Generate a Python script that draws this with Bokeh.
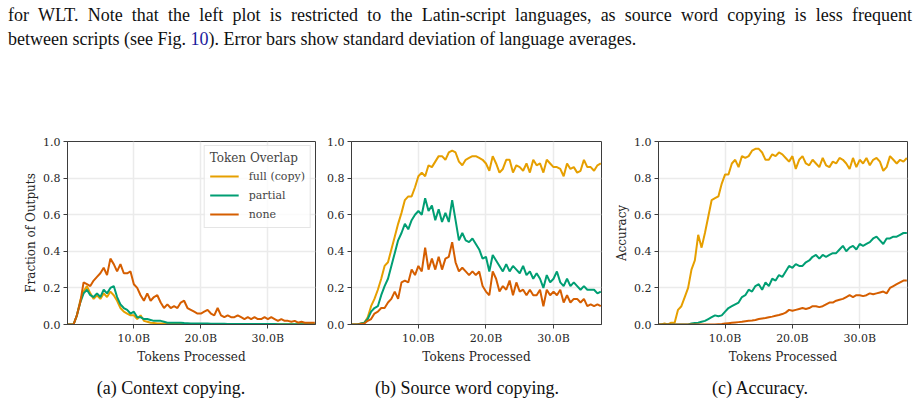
from bokeh.plotting import figure
from bokeh.models import Range1d, FixedTicker, Div
from bokeh.layouts import row, column
from bokeh.embed import file_html
from bokeh.resources import INLINE

# tokens processed, in billions
tokens = [0.0, 0.5, 1.0, 1.5, 2.0, 2.5, 3.0, 3.5, 4.0, 4.5,
          5.0, 5.5, 6.0, 6.5, 7.0, 7.5, 8.0, 8.5, 9.0, 9.5,
          10.0, 10.5, 11.0, 11.5, 12.0, 12.5, 13.0, 13.5, 14.0, 14.5,
          15.0, 15.5, 16.0, 16.5, 17.0, 17.5, 18.0, 18.5, 19.0, 19.5,
          20.0, 20.5, 21.0, 21.5, 22.0, 22.5, 23.0, 23.5, 24.0, 24.5,
          25.0, 25.5, 26.0, 26.5, 27.0, 27.5, 28.0, 28.5, 29.0, 29.5,
          30.0, 30.5, 31.0, 31.5, 32.0, 32.5, 33.0, 33.5, 34.0, 34.5,
          35.0, 35.5, 36.0, 36.5, 37.0]

# (a) context copying
ctx_full = [0, 0, 0, 0.05, 0.13, 0.18, 0.21, 0.17, 0.14, 0.16,
            0.14, 0.17, 0.15, 0.18, 0.16, 0.13, 0.09, 0.07, 0.06, 0.05,
            0.05, 0.03, 0.05, 0.02, 0.015, 0.01, 0.008, 0.006, 0.005, 0.005,
            0.004, 0.004, 0.003, 0.003, 0.003, 0.002, 0.002, 0.002, 0.002, 0.002,
            0.002, 0.002, 0.001, 0.001, 0.001, 0.001, 0.001, 0.001, 0.001, 0.001,
            0.001, 0.001, 0.001, 0.001, 0.001, 0.001, 0.001, 0.001, 0.001, 0.001,
            0.001, 0.001, 0.001, 0.001, 0.001, 0.001, 0.001, 0.001, 0.001, 0.001,
            0.001, 0.001, 0.001, 0.001, 0.001]
ctx_partial = [0, 0, 0, 0.05, 0.12, 0.17, 0.19, 0.16, 0.15, 0.17,
               0.15, 0.19, 0.17, 0.20, 0.21, 0.15, 0.11, 0.09, 0.08, 0.06,
               0.07, 0.04, 0.04, 0.03, 0.03, 0.025, 0.02, 0.02, 0.02, 0.015,
               0.01, 0.01, 0.01, 0.01, 0.01, 0.008, 0.007, 0.006, 0.006, 0.005,
               0.005, 0.005, 0.005, 0.004, 0.004, 0.004, 0.004, 0.004, 0.003, 0.003,
               0.003, 0.003, 0.003, 0.003, 0.003, 0.003, 0.003, 0.003, 0.003, 0.003,
               0.003, 0.003, 0.003, 0.002, 0.002, 0.002, 0.002, 0.002, 0.002, 0.002,
               0.002, 0.002, 0.002, 0.002, 0.002]
ctx_none = [0, 0, 0, 0.05, 0.12, 0.23, 0.22, 0.21, 0.24, 0.26,
            0.28, 0.31, 0.27, 0.36, 0.33, 0.29, 0.33, 0.28, 0.28, 0.29,
            0.22, 0.20, 0.16, 0.13, 0.17, 0.13, 0.15, 0.16, 0.12, 0.09,
            0.11, 0.09, 0.10, 0.09, 0.12, 0.13, 0.09, 0.08, 0.07, 0.06,
            0.06, 0.07, 0.08, 0.06, 0.05, 0.09, 0.05, 0.04, 0.05, 0.04,
            0.04, 0.05, 0.04, 0.03, 0.04, 0.03, 0.04, 0.03, 0.03, 0.04,
            0.03, 0.04, 0.03, 0.02, 0.03, 0.02, 0.02, 0.015, 0.02, 0.01,
            0.015, 0.01, 0.01, 0.01, 0.01]

# (b) source word copying
src_full = [0, 0, 0, 0.005, 0.01, 0.04, 0.10, 0.14, 0.19, 0.25,
            0.32, 0.34, 0.41, 0.48, 0.55, 0.61, 0.68, 0.70, 0.70, 0.75,
            0.81, 0.83, 0.81, 0.87, 0.86, 0.89, 0.92, 0.92, 0.90, 0.94,
            0.95, 0.94, 0.89, 0.87, 0.90, 0.91, 0.92, 0.92, 0.91, 0.90,
            0.88, 0.84, 0.92, 0.88, 0.83, 0.85, 0.90, 0.90, 0.83, 0.87,
            0.86, 0.84, 0.88, 0.83, 0.90, 0.87, 0.88, 0.83, 0.90, 0.88,
            0.86, 0.86, 0.85, 0.81, 0.88, 0.85, 0.86, 0.83, 0.84, 0.90,
            0.86, 0.86, 0.84, 0.87, 0.88]
src_partial = [0, 0, 0, 0.005, 0.01, 0.03, 0.07, 0.09, 0.10, 0.16,
               0.21, 0.25, 0.32, 0.39, 0.46, 0.50, 0.55, 0.52, 0.57, 0.60,
               0.62, 0.60, 0.69, 0.62, 0.65, 0.57, 0.63, 0.56, 0.61, 0.56,
               0.68, 0.57, 0.46, 0.50, 0.46, 0.45, 0.47, 0.44, 0.41, 0.36,
               0.37, 0.29, 0.38, 0.35, 0.32, 0.29, 0.33, 0.29, 0.32, 0.30,
               0.28, 0.32, 0.27, 0.29, 0.25, 0.28, 0.25, 0.20, 0.27, 0.23,
               0.25, 0.29, 0.23, 0.21, 0.25, 0.21, 0.23, 0.21, 0.19, 0.21,
               0.19, 0.19, 0.19, 0.17, 0.18]
src_none = [0, 0, 0, 0.003, 0.005, 0.02, 0.03, 0.06, 0.07, 0.09,
            0.09, 0.12, 0.14, 0.18, 0.14, 0.23, 0.24, 0.23, 0.30, 0.27,
            0.32, 0.29, 0.42, 0.30, 0.36, 0.30, 0.37, 0.30, 0.36, 0.37,
            0.45, 0.34, 0.29, 0.31, 0.29, 0.27, 0.29, 0.27, 0.29, 0.21,
            0.18, 0.16, 0.29, 0.25, 0.18, 0.21, 0.19, 0.24, 0.16, 0.23,
            0.18, 0.19, 0.16, 0.19, 0.16, 0.16, 0.19, 0.10, 0.19, 0.16,
            0.18, 0.16, 0.19, 0.12, 0.16, 0.12, 0.14, 0.14, 0.12, 0.14,
            0.10, 0.11, 0.10, 0.11, 0.10]

# (c) accuracy
acc_full = [0, 0, 0.005, 0, 0.01, 0.01, 0.08, 0.10, 0.15, 0.20,
            0.30, 0.35, 0.49, 0.42, 0.50, 0.59, 0.68, 0.69, 0.70, 0.77,
            0.82, 0.82, 0.88, 0.90, 0.86, 0.92, 0.91, 0.92, 0.95, 0.96,
            0.96, 0.94, 0.90, 0.90, 0.93, 0.92, 0.94, 0.93, 0.91, 0.89,
            0.92, 0.85, 0.90, 0.92, 0.88, 0.87, 0.90, 0.88, 0.86, 0.91,
            0.87, 0.86, 0.89, 0.88, 0.91, 0.90, 0.88, 0.85, 0.91, 0.86,
            0.90, 0.88, 0.91, 0.87, 0.90, 0.91, 0.89, 0.84, 0.86, 0.92,
            0.90, 0.88, 0.90, 0.89, 0.91]
acc_partial = [0, 0, 0, 0, 0, 0, 0, 0, 0, 0,
               0.005, 0.008, 0.01, 0.015, 0.02, 0.03, 0.04, 0.05, 0.045, 0.05,
               0.07, 0.09, 0.10, 0.11, 0.12, 0.15, 0.16, 0.19, 0.18, 0.21,
               0.22, 0.19, 0.23, 0.21, 0.25, 0.24, 0.27, 0.26, 0.29, 0.32,
               0.31, 0.33, 0.32, 0.32, 0.34, 0.35, 0.37, 0.38, 0.36, 0.38,
               0.37, 0.38, 0.39, 0.39, 0.41, 0.43, 0.40, 0.42, 0.43, 0.41,
               0.44, 0.43, 0.44, 0.45, 0.47, 0.48, 0.46, 0.44, 0.47, 0.47,
               0.48, 0.48, 0.49, 0.50, 0.50]
acc_none = [0, 0, 0, 0, 0, 0, 0, 0, 0, 0,
            0, 0, 0, 0, 0, 0, 0, 0, 0.002, 0.003,
            0.005, 0.007, 0.009, 0.011, 0.013, 0.015, 0.018, 0.02, 0.022, 0.025,
            0.03, 0.033, 0.036, 0.04, 0.043, 0.048, 0.052, 0.057, 0.065, 0.08,
            0.075, 0.08, 0.085, 0.09, 0.085, 0.09, 0.10, 0.10, 0.095, 0.10,
            0.11, 0.12, 0.12, 0.13, 0.135, 0.14, 0.15, 0.16, 0.15, 0.16,
            0.16, 0.155, 0.16, 0.17, 0.165, 0.17, 0.175, 0.18, 0.17, 0.20,
            0.21, 0.22, 0.23, 0.24, 0.24]

series_names = ["full (copy)", "partial", "none"]
colors = ["#E69F00", "#009E73", "#D55E00"]
x_ticks = [10, 20, 30]
x_tick_labels = ["10.0B", "20.0B", "30.0B"]
y_ticks = [0, 0.2, 0.4, 0.6, 0.8, 1.0]
y_tick_labels = ["0.0", "0.2", "0.4", "0.6", "0.8", "1.0"]
captions = ["(a) Context copying.", "(b) Source word copying.", "(c) Accuracy."]

SERIF = "DejaVu Serif"


def make_fig(w, left, right, ylabel, ys, legend=False):
    p = figure(width=w, height=258, x_range=Range1d(0.1, 37.1), y_range=Range1d(0, 1),
               output_backend="svg", toolbar_location=None,
               min_border_left=left, min_border_right=right, min_border_top=33, min_border_bottom=40)
    for y, name, c in zip(ys, series_names, colors):
        if legend:
            p.line(tokens, y, line_color=c, line_width=2, legend_label=name)
        else:
            p.line(tokens, y, line_color=c, line_width=2)
    p.xaxis.ticker = FixedTicker(ticks=x_ticks)
    p.xaxis.major_label_overrides = dict(zip(x_ticks, x_tick_labels))
    p.yaxis.ticker = FixedTicker(ticks=y_ticks)
    p.yaxis.major_label_overrides = dict(zip(y_ticks, y_tick_labels))
    p.axis.major_label_text_font = SERIF
    p.axis.major_label_text_font_size = "11px"
    p.axis.major_label_text_color = "#262626"
    p.axis.major_tick_out = 4
    p.axis.major_tick_in = 0
    p.axis.minor_tick_line_color = None
    p.axis.major_tick_line_color = "#3d3d3d"
    p.axis.axis_line_color = "#3d3d3d"
    p.axis.major_label_standoff = 3
    p.xaxis.axis_label = "Tokens Processed"
    if ylabel:
        p.yaxis.axis_label = ylabel
    p.axis.axis_label_text_font = SERIF
    p.axis.axis_label_text_font_size = "12px"
    p.axis.axis_label_text_font_style = "normal"
    p.axis.axis_label_text_color = "#262626"
    p.axis.axis_label_standoff = 2
    p.grid.grid_line_color = "#ebebeb"
    p.grid.grid_line_width = 1.5
    p.outline_line_color = "#3d3d3d"
    p.outline_line_alpha = 1
    if legend:
        lg = p.legend[0]
        lg.title = "Token Overlap"
        lg.title_text_font = SERIF
        lg.title_text_font_size = "12px"
        lg.title_text_font_style = "normal"
        lg.title_standoff = 3
        lg.location = "top_right"
        lg.margin = 4
        lg.padding = 5
        lg.spacing = 3
        lg.glyph_width = 29
        lg.glyph_height = 16
        lg.label_height = 16
        lg.label_standoff = 10
        lg.label_text_font = SERIF
        lg.label_text_font_size = "11px"
        lg.border_line_color = "#cccccc"
        lg.background_fill_alpha = 0.8
    return p


p1 = make_fig(320, 67, 5, "Fraction of Outputs", [ctx_full, ctx_partial, ctx_none], legend=True)
p2 = make_fig(286, 31, 5, None, [src_full, src_partial, src_none])
p3 = make_fig(306, 52, 5, "Accuracy", [acc_full, acc_partial, acc_none])

top_html = (
    '<div style="position:relative;width:920px;height:108px;font-family:\'Liberation Serif\';'
    'font-size:18px;line-height:24px;color:#111">'
    '<div style="position:absolute;left:8px;top:3px;width:904px;text-align:justify;'
    'text-align-last:justify;white-space:nowrap">for WLT. Note that the left plot is restricted to the '
    'Latin-script languages, as source word copying is less frequent</div>'
    '<div style="position:absolute;left:8px;top:27px;white-space:nowrap">between scripts (see Fig. '
    '<span style="color:#1a1a9c">10</span>). Error bars show standard deviation of language averages.</div>'
    '</div>'
)
top = Div(text=top_html, width=920, height=108, margin=(0, 0, 0, 0))

centers = [171, 467, 760]
cap_html = ('<div style="position:relative;width:920px;height:38px;font-family:\'Liberation Serif\';'
            'font-size:18px;line-height:24px;color:#111">')
for cx, cap in zip(centers, captions):
    cap_html += ('<div style="position:absolute;top:10px;left:%dpx;transform:translateX(-50%%);'
                 'white-space:nowrap">%s</div>' % (cx, cap))
cap_html += '</div>'
bottom = Div(text=cap_html, width=912, height=38, margin=(0, 0, 0, 0))

layout = column(top, row(p1, p2, p3), bottom)
open("out.html", "w").write(file_html(layout, INLINE))
